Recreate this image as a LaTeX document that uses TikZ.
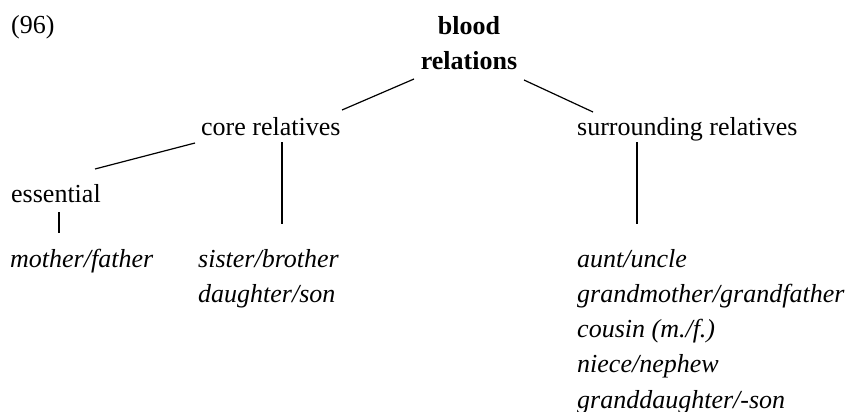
\documentclass[tikz,border=0pt]{standalone}
\usepackage{fontspec}
\setmainfont{Liberation Serif}
\begin{document}
\begin{tikzpicture}[x=1pt,y=-1pt,
  every node/.style={inner sep=0pt,font=\fontsize{26}{30}\selectfont},
  lbl/.style={anchor=base west},
  term/.style={anchor=base west,font=\fontsize{26}{30}\selectfont\itshape},
  head/.style={anchor=base,font=\fontsize{26}{30}\selectfont\bfseries},
  edge/.style={line width=1.2pt,line cap=butt}]
\useasboundingbox (0,0) rectangle (854,412);

% example number and root
\node[lbl] (num) at (11,34) {(96)};
\node[head] (rootA) at (469,35) {blood};
\node[head] (rootB) at (469,70) {relations};

% second level
\node[lbl] (core) at (201,135) {core relatives};
\node[lbl] (surr) at (577,135) {surrounding relatives};

% third level
\node[lbl] (ess) at (11,202) {essential};

% terms
\node[term] (mf) at (10,267) {mother/father};
\node[term] (sb) at (198,267) {sister/brother};
\node[term] (ds) at (198,302.25) {daughter/son};
\node[term] (au) at (577,267) {aunt/uncle};
\node[term] (gg) at (577,302.25) {grandmother/grandfather};
\node[term] (cm) at (577,337.5) {cousin (m./f.)};
\node[term] (nn) at (577,372.75) {niece/nephew};
\node[term] (gd) at (577,408) {granddaughter/-son};

% branch end points
\coordinate (rootL) at (414,79);
\coordinate (rootR) at (524,80);
\coordinate (coreUp) at (342,110);
\coordinate (surrUp) at (593,112);
\coordinate (coreL) at (195,143);
\coordinate (essUp) at (95,169);
\coordinate (coreD) at (282,142);
\coordinate (sbUp) at (282,224);
\coordinate (surrD) at (637,142);
\coordinate (auUp) at (637,224);
\coordinate (essD) at (59,212);
\coordinate (mfUp) at (59,233);

\draw[edge] (rootL) -- (coreUp);
\draw[edge] (rootR) -- (surrUp);
\draw[edge] (coreL) -- (essUp);
\draw[edge] (coreD) -- (sbUp);
\draw[edge] (surrD) -- (auUp);
\draw[edge] (essD) -- (mfUp);
\end{tikzpicture}
\end{document}
